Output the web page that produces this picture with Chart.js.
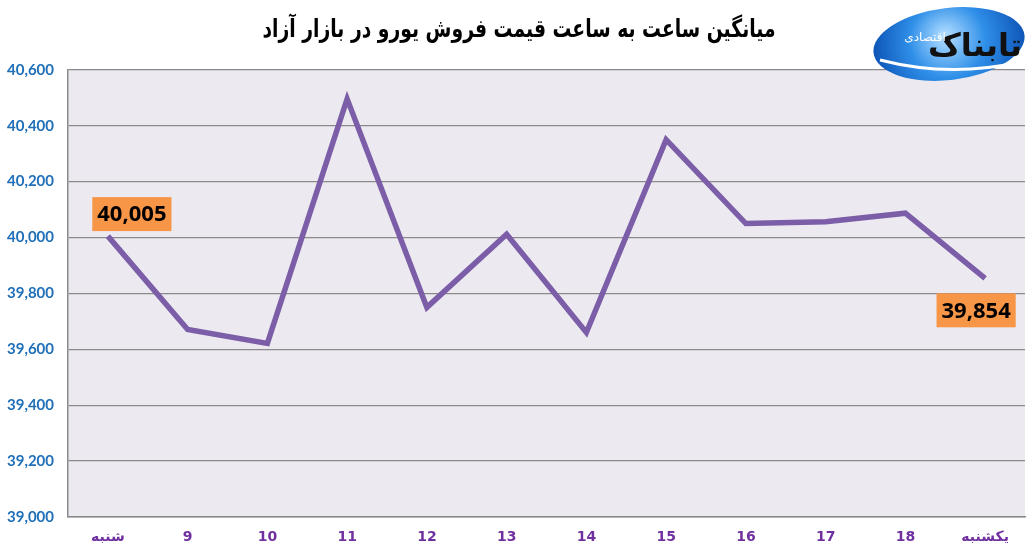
<!DOCTYPE html>
<html>
<head>
<meta charset="utf-8">
<script src="https://cdn.jsdelivr.net/npm/chart.js@4/dist/chart.umd.min.js"></script>
<style>
  html, body { margin: 0; padding: 0; background: #fff; }
  #wrap { width: 1033px; height: 556px; position: relative; }
</style>
</head>
<body>
<div id="wrap"><canvas id="euroPrice"></canvas></div>
<script>
// hours / days on the x axis
var days = ['شنبه', '9', '10', '11', '12', '13', '14', '15', '16', '17', '18', 'یکشنبه'];
// average euro sale price, free market
var prices = [40005, 39671, 39621, 40496, 39750, 40012, 39660, 40350, 40050, 40056, 40087, 39854];
var yTicks = [39000, 39200, 39400, 39600, 39800, 40000, 40200, 40400, 40600];
var titleText = 'میانگین ساعت به ساعت قیمت فروش یورو در بازار آزاد';

// plot background
var plotBg = {
  id: 'plotBg',
  beforeDraw: function (chart) {
    var a = chart.chartArea, ctx = chart.ctx;
    ctx.save();
    ctx.fillStyle = '#ECEAF0';
    ctx.fillRect(a.left, a.top, a.right - a.left, a.bottom - a.top);
    ctx.restore();
  }
};

// condensed bold title (the built-in title only keeps the space)
var narrowTitle = {
  id: 'narrowTitle',
  afterDraw: function (chart) {
    var ctx = chart.ctx;
    ctx.save();
    ctx.translate(519, 30);
    ctx.scale(0.75, 1);
    ctx.font = 'bold 25px "DejaVu Sans", sans-serif';
    ctx.fillStyle = '#000';
    ctx.textAlign = 'center';
    ctx.textBaseline = 'middle';
    ctx.fillText(titleText, 0, 0);
    ctx.restore();
  }
};

// orange value boxes on first and last point
var valueBoxes = {
  id: 'valueBoxes',
  afterDatasetsDraw: function (chart) {
    var ctx = chart.ctx;
    var pts = chart.getDatasetMeta(0).data;
    var marks = [[0, -1, 24], [pts.length - 1, 1, -9]];
    ctx.save();
    ctx.font = 'bold 22px "Open Sans", sans-serif';
    ctx.textAlign = 'center';
    ctx.textBaseline = 'middle';
    marks.forEach(function (m) {
      var p = pts[m[0]];
      var txt = prices[m[0]].toLocaleString('en-US');
      var w = ctx.measureText(txt).width + 10, h = 34;
      var cx = p.x + m[2];
      var cy = m[1] < 0 ? p.y - 22 : p.y + 32;
      ctx.fillStyle = '#F79646';
      ctx.fillRect(cx - w / 2, cy - h / 2, w, h);
      ctx.fillStyle = '#000';
      ctx.fillText(txt, cx, cy + 1);
    });
    ctx.restore();
  }
};

// logo in the top right corner
var logo = {
  id: 'logo',
  afterDraw: function (chart) {
    var ctx = chart.ctx;
    ctx.save();
    var g = ctx.createRadialGradient(945, 36, 4, 950, 44, 80);
    g.addColorStop(0, '#a8d8ff');
    g.addColorStop(0.45, '#2f8fe8');
    g.addColorStop(1, '#0a4fb3');
    ctx.fillStyle = g;
    ctx.beginPath();
    ctx.ellipse(949, 44, 76, 36, -0.12, 0, Math.PI * 2);
    ctx.fill();
    // white swoosh
    ctx.strokeStyle = '#fff';
    ctx.lineWidth = 3;
    ctx.beginPath();
    ctx.moveTo(880, 60);
    ctx.quadraticCurveTo(950, 78, 1020, 62);
    ctx.stroke();
    ctx.fillStyle = '#111';
    ctx.font = 'bold 32px "DejaVu Sans", sans-serif';
    ctx.textAlign = 'center';
    ctx.textBaseline = 'middle';
    ctx.fillText('تابناک', 975, 48);
    ctx.fillStyle = '#fff';
    ctx.font = '12px "DejaVu Sans", sans-serif';
    ctx.fillText('اقتصادی', 925, 38);
    ctx.restore();
  }
};

new Chart(document.getElementById('euroPrice'), {
  type: 'line',
  data: {
    labels: days,
    datasets: [{
      label: 'euro',
      data: prices,
      borderColor: '#7B5EA7',
      borderWidth: 5.5,
      pointRadius: 0,
      tension: 0,
      fill: false
    }]
  },
  options: {
    responsive: true,
    maintainAspectRatio: false,
    animation: false,
    layout: { padding: { left: 0, right: 8, top: 0, bottom: 0 } },
    plugins: {
      legend: { display: false },
      tooltip: { enabled: false },
      title: {
        display: true,
        text: titleText,
        color: 'rgba(0,0,0,0)',
        font: { family: '"DejaVu Sans", sans-serif', size: 19, weight: 'bold' },
        padding: { top: 20, bottom: 27 }
      }
    },
    scales: {
      x: {
        offset: true,
        grid: { display: false, drawTicks: false },
        border: { color: '#8a8a8a', width: 1.5 },
        ticks: {
          color: '#7030A0',
          padding: 12,
          font: { family: '"DejaVu Sans", sans-serif', size: 14, weight: 'bold' }
        },
        afterFit: function (s) { s.height = 39; }
      },
      y: {
        min: 39000,
        max: 40600,
        afterBuildTicks: function (s) {
          s.ticks = yTicks.map(function (v) { return { value: v }; });
        },
        grid: { color: '#8a8a8a', lineWidth: 1.3, drawTicks: false },
        border: { color: '#8a8a8a', width: 1.5 },
        ticks: {
          color: '#1F6FB8',
          padding: 14,
          font: { family: 'Lato, sans-serif', size: 15, weight: 'bold' },
          callback: function (v) { return v.toLocaleString('en-US'); }
        },
        afterFit: function (s) { s.width = 68; }
      }
    }
  },
  plugins: [plotBg, valueBoxes, narrowTitle, logo]
});
</script>
</body>
</html>
